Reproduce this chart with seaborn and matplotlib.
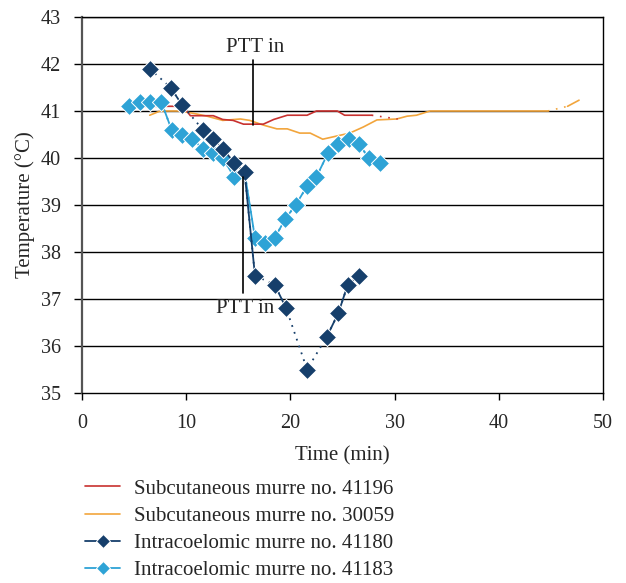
import numpy as np
import pandas as pd
import matplotlib
matplotlib.use("Agg")
import matplotlib.pyplot as plt
import seaborn as sns

# Subcutaneous murre no. 41196 (smooth trace)
red_t = [5.5, 9.7, 10.4, 12.6, 13.5, 14.5, 15.5, 17.4, 18.4, 19.7, 21.6, 22.5, 24.5, 25.2, 27.8]
red_y = [41.1, 41.1, 40.9, 40.9, 40.82, 40.8, 40.72, 40.72, 40.82, 40.91, 40.91, 41.0, 41.0, 40.91, 40.91]
red_gap_t = [27.8, 30.3]
red_gap_y = [40.91, 40.83]

# Subcutaneous murre no. 30059
org_t = [6.5, 7.5, 9.4, 10.7, 12.0, 13.5, 15.2, 16.1, 17.4, 18.7, 19.7, 20.9, 21.9,
         23.1, 24.3, 25.7, 27.0, 28.3, 30.2, 31.2, 32.1, 33.4, 44.7]
org_y = [40.91, 41.0, 41.0, 40.95, 40.89, 40.8, 40.83, 40.8, 40.7, 40.62, 40.62, 40.53, 40.53,
         40.4, 40.46, 40.53, 40.66, 40.81, 40.83, 40.89, 40.91, 41.0, 41.0]
org_gap_t = [44.7, 46.6]
org_gap_y = [41.0, 41.1]
org_end_t = [46.6, 47.7]
org_end_y = [41.1, 41.23]

# Intracoelomic murre no. 41180
dk_t = [6.5, 8.5, 9.6, 11.6, 12.6, 13.5, 14.6, 15.6, 16.6, 18.5, 19.6, 21.6, 23.5, 24.6, 25.5, 26.6]
dk_y = [41.9, 41.5, 41.13, 40.6, 40.4, 40.2, 39.9, 39.7, 37.5, 37.3, 36.8, 35.5, 36.2, 36.7, 37.3, 37.5]

# Intracoelomic murre no. 41183
lt_t = [4.5, 5.6, 6.5, 7.6, 8.6, 9.6, 10.6, 11.6, 12.6, 13.5, 14.6, 15.6, 16.6, 17.6, 18.5,
        19.5, 20.5, 21.6, 22.5, 23.6, 24.6, 25.6, 26.6, 27.5, 28.6]
lt_y = [41.1, 41.2, 41.2, 41.2, 40.6, 40.5, 40.4, 40.2, 40.1, 40.0, 39.6, 39.7, 38.3, 38.2, 38.3,
        38.7, 39.0, 39.4, 39.6, 40.1, 40.3, 40.4, 40.3, 40.0, 39.9]

labels = ["Subcutaneous murre no. 41196", "Subcutaneous murre no. 30059",
          "Intracoelomic murre no. 41180", "Intracoelomic murre no. 41183"]
c_red, c_org, c_dk, c_lt = "#c8312f", "#f2a53c", "#163f6b", "#2ea3d6"

sns.set_theme(style="white")
plt.rcParams["font.family"] = ["Liberation Serif", "DejaVu Serif"]
fs = 15

fig = plt.figure(figsize=(6.26, 5.83), dpi=100)
ax = fig.add_axes([82 / 626, 1 - 393 / 583, (603 - 82) / 626, (393 - 17) / 583])

for v in range(36, 44):
    ax.axhline(v, color="black", lw=1.0, zorder=1)

# subcutaneous traces
sns.lineplot(x=red_t, y=red_y, color=c_red, lw=1.2, ax=ax, zorder=3)
ax.plot(red_gap_t, red_gap_y, color=c_red, lw=1.2, ls=(0, (1, 4)), zorder=3)
sns.lineplot(x=org_t, y=org_y, color=c_org, lw=1.2, ax=ax, zorder=2)
ax.plot(org_gap_t, org_gap_y, color=c_org, lw=1.2, ls=(0, (1, 4)), zorder=2)
ax.plot(org_end_t, org_end_y, color=c_org, lw=1.2, zorder=2)


def draw_intra(t, y, color, z):
    t = np.asarray(t)
    y = np.asarray(y)
    # dotted across missing minutes, solid between consecutive readings
    ax.plot(t, y, color=color, lw=1.3, ls=(0, (1, 3)), zorder=z)
    for i in range(len(t) - 1):
        if t[i + 1] - t[i] < 1.5:
            ax.plot(t[i:i + 2], y[i:i + 2], color=color, lw=1.3, zorder=z)
    sns.scatterplot(x=t, y=y, marker="D", s=85, color=color, edgecolor="white",
                    linewidth=0.7, ax=ax, zorder=z + 0.5)


draw_intra(lt_t, lt_y, c_lt, 4)
draw_intra(dk_t, dk_y, c_dk, 5)

# PTT annotations
ax.plot([16.4, 16.4], [42.09, 40.7], color="black", lw=1.2, zorder=6)
ax.text(16.6, 42.36, "PTT in", ha="center", va="center", fontsize=fs, zorder=6)
ax.plot([15.45, 15.45], [39.6, 37.13], color="black", lw=1.2, zorder=6)
ax.text(15.65, 36.8, "PTT in", ha="center", va="center", fontsize=fs, zorder=6)

ax.set_xlim(0, 50)
ax.set_ylim(35, 43)
ax.set_xticks(range(0, 51, 10))
ax.set_yticks(range(35, 44))
ax.tick_params(axis="both", labelsize=14.5, direction="out", width=1, color="black",
               left=True, bottom=True)
ax.tick_params(axis="x", length=5, pad=10)
ax.tick_params(axis="y", length=6, pad=9)
ax.set_xlabel("Time (min)", fontsize=fs, labelpad=10)
ax.set_ylabel("Temperature (°C)", fontsize=fs, labelpad=4)
for side in ["bottom", "right", "top"]:
    ax.spines[side].set_color("black")
    ax.spines[side].set_linewidth(1.0)
ax.spines["left"].set_color("#555555")
ax.spines["left"].set_linewidth(1.6)

handles = [
    plt.Line2D([], [], color=c_red, lw=1.2),
    plt.Line2D([], [], color=c_org, lw=1.2),
    plt.Line2D([], [], color=c_dk, lw=1.3, marker="D", ms=7.5, mec="white", mew=0.7),
    plt.Line2D([], [], color=c_lt, lw=1.3, marker="D", ms=7.5, mec="white", mew=0.7),
]
fig.legend(handles, labels, loc="upper left", bbox_to_anchor=(85 / 626, 1 - 479 / 583),
           frameon=False, fontsize=fs, handlelength=1.7, handletextpad=0.63,
           labelspacing=0.37, borderpad=0, borderaxespad=0)

fig.savefig("out.png", dpi=100)
